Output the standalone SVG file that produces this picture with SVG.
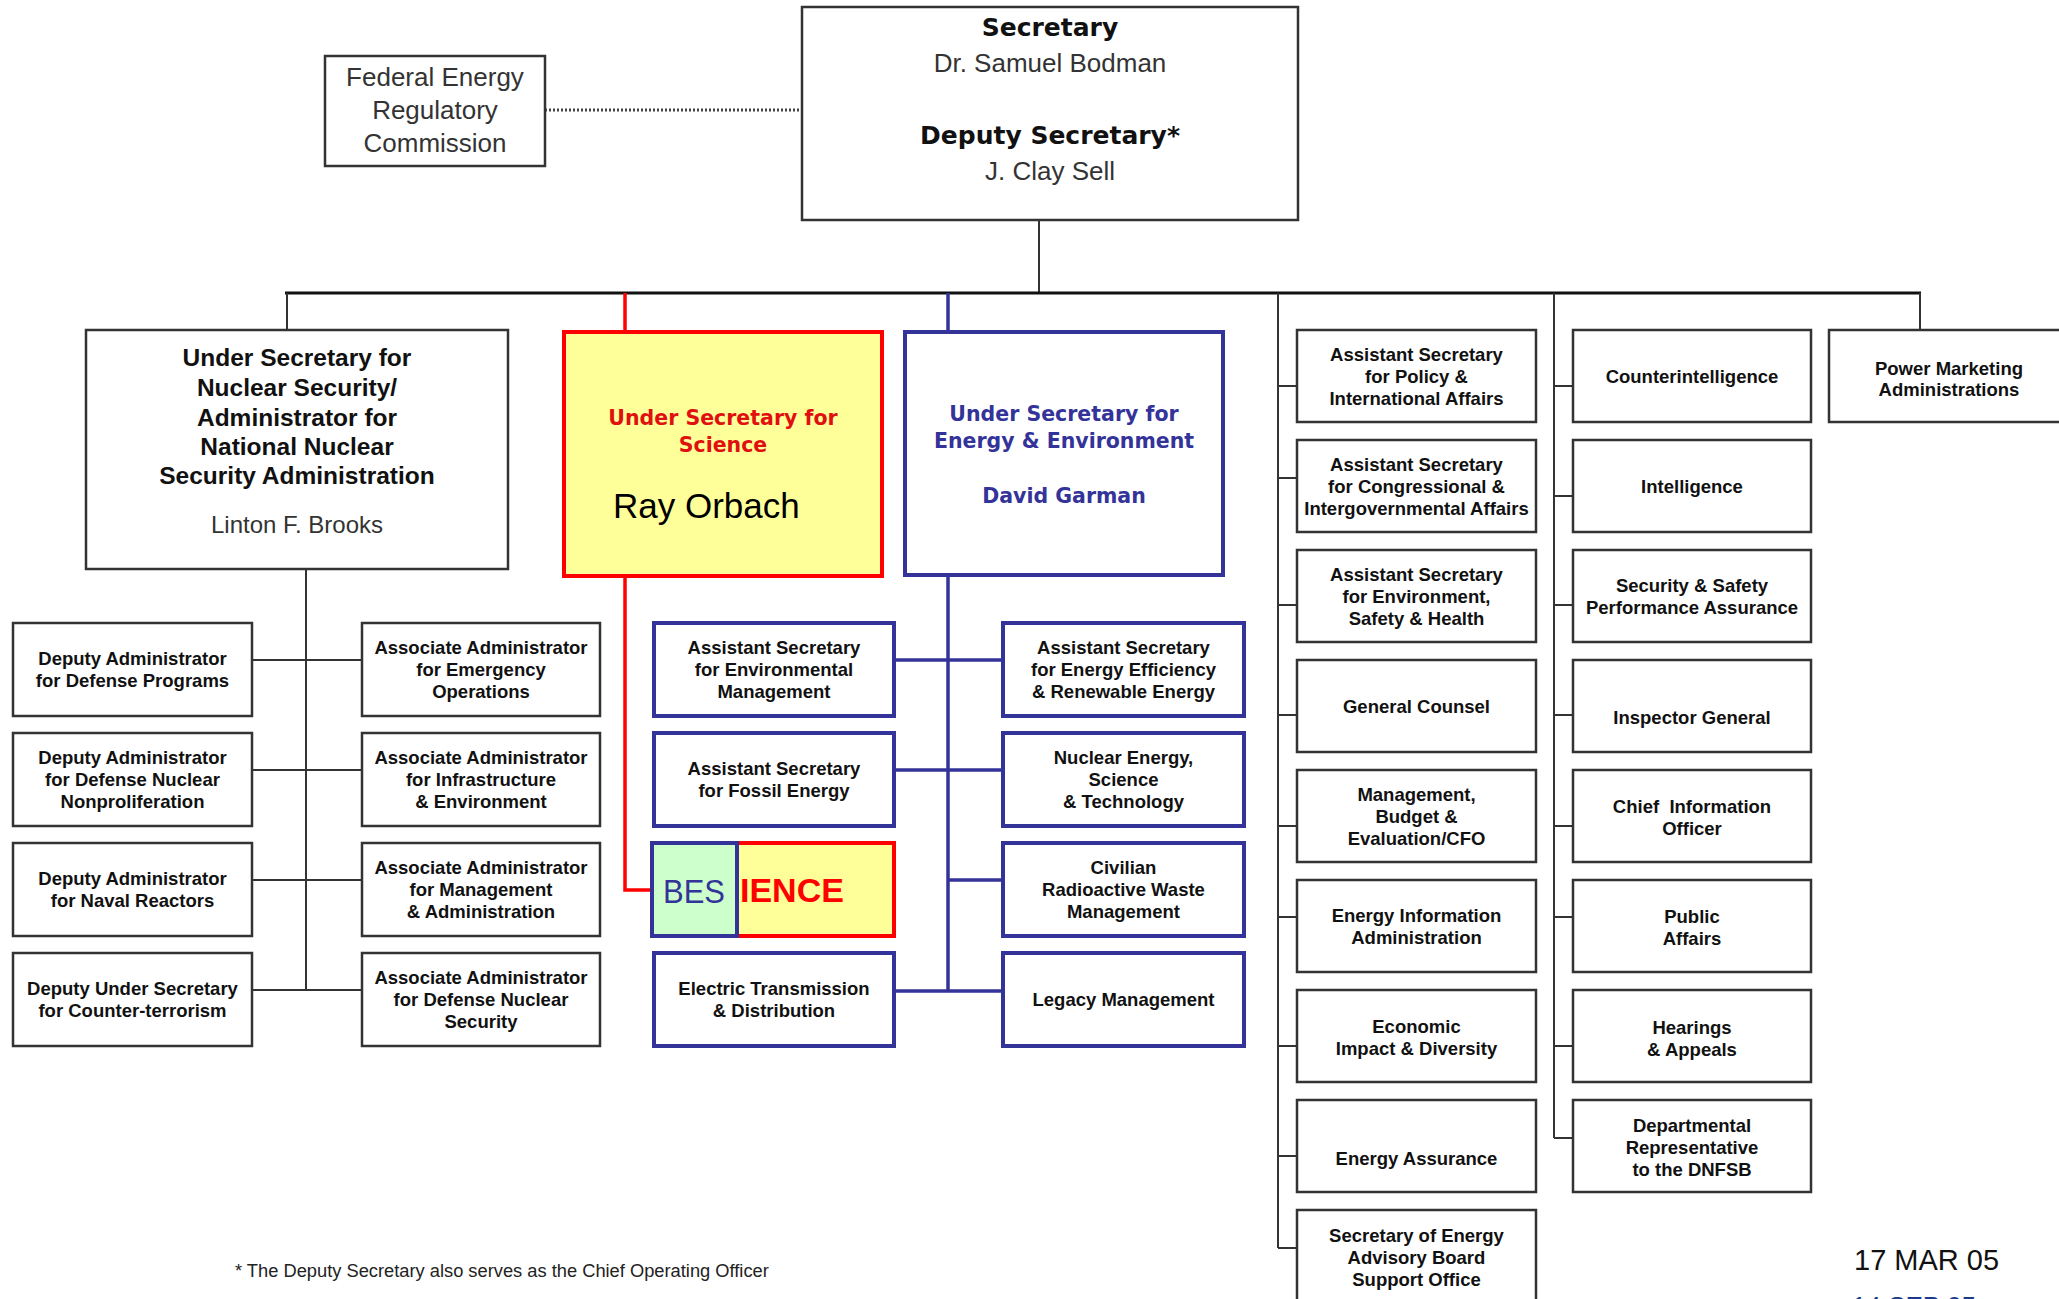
<svg xmlns="http://www.w3.org/2000/svg" width="2059" height="1299" viewBox="0 0 2059 1299">
<style>
.bx{fill:#fff;stroke:#333;stroke-width:2.5}
.bb{fill:#fff;stroke:#333399;stroke-width:4}
.t{font-family:"Liberation Sans",Arial,sans-serif;font-weight:bold;font-size:18.5px;text-anchor:middle;fill:#111}
.r{font-family:"Liberation Sans",Arial,sans-serif;font-size:26px;text-anchor:middle;fill:#333}
.h{font-family:"DejaVu Sans",Verdana,sans-serif;font-weight:bold;text-anchor:middle}
.ln{stroke:#333;stroke-width:2;fill:none}
.bl{stroke:#333399;stroke-width:3.5;fill:none}
.rl{stroke:#f00;stroke-width:3.5;fill:none}
</style>
<rect width="2059" height="1299" fill="#fff"/>
<g id="connectors">
<line x1="545" y1="110" x2="802" y2="110" stroke="#444" stroke-width="3" stroke-dasharray="2 2"/>
<line class="ln" x1="1039" y1="220" x2="1039" y2="293"/>
<line x1="285" y1="293" x2="1921" y2="293" stroke="#111" stroke-width="3"/>
<line class="ln" x1="287" y1="293" x2="287" y2="330"/>
<path class="rl" d="M625 293V332M625 576V890H654"/>
<path class="bl" d="M948 293V332M948 575V991"/>
<path class="bl" d="M894 660H1003M894 770H1003M948 880H1003M894 991H1003"/>
<path class="ln" d="M306 569V990M252 660H362M252 770H362M252 880H362M252 990H362"/>
<path class="ln" d="M1278 293V1248M1278 386H1297M1278 478H1297M1278 605H1297M1278 715H1297M1278 826H1297M1278 917H1297M1278 1046H1297M1278 1156H1297M1278 1248H1297"/>
<path class="ln" d="M1554 293V1138M1554 386H1573M1554 496H1573M1554 605H1573M1554 715H1573M1554 826H1573M1554 917H1573M1554 1046H1573M1554 1138H1573"/>
<line class="ln" x1="1920" y1="293" x2="1920" y2="330"/>
</g>
<g id="secretary">
<rect class="bx" x="802" y="7" width="496" height="213"/>
<text class="h" x="1050" y="36" font-size="25" fill="#111">Secretary</text>
<text class="r" x="1050" y="72">Dr. Samuel Bodman</text>
<text class="h" x="1050" y="144" font-size="25" fill="#111">Deputy Secretary*</text>
<text class="r" x="1050" y="180">J. Clay Sell</text>
</g>
<g id="ferc">
<rect class="bx" x="325" y="56" width="220" height="110"/>
<text class="r" x="435" y="86">Federal Energy</text>
<text class="r" x="435" y="119">Regulatory</text>
<text class="r" x="435" y="152">Commission</text>
</g>
<g id="us-nuclear">
<rect class="bx" x="86" y="330" width="422" height="239"/>
<g class="t" style="font-size:24.5px">
<text x="297" y="366">Under Secretary for</text>
<text x="297" y="396">Nuclear Security/</text>
<text x="297" y="426">Administrator for</text>
<text x="297" y="455">National Nuclear</text>
<text x="297" y="484">Security Administration</text>
</g>
<text class="r" x="297" y="533" style="font-size:24px">Linton F. Brooks</text>
</g>
<g id="us-science">
<rect x="564" y="332" width="318" height="244" fill="#ffff99" stroke="#f00" stroke-width="4"/>
<text class="h" x="723" y="425" font-size="20.5" fill="#e01010">Under Secretary for</text>
<text class="h" x="723" y="452" font-size="20.5" fill="#e01010">Science</text>
<text x="613" y="518" font-family="Liberation Sans, Arial, sans-serif" font-size="35" fill="#000">Ray Orbach</text>
</g>
<g id="us-energy">
<rect class="bb" x="905" y="332" width="318" height="243"/>
<text class="h" x="1064" y="421" font-size="20.5" fill="#333399">Under Secretary for</text>
<text class="h" x="1064" y="448" font-size="20.5" fill="#333399">Energy &amp; Environment</text>
<text class="h" x="1064" y="503" font-size="20.5" fill="#333399">David Garman</text>
</g>
<g id="da-defense"><rect class="bx" x="13" y="623" width="239" height="93"/><text class="t" x="132.5" y="665">Deputy Administrator</text><text class="t" x="132.5" y="687">for Defense Programs</text></g>
<g id="da-nonprolif"><rect class="bx" x="13" y="733" width="239" height="93"/><text class="t" x="132.5" y="764">Deputy Administrator</text><text class="t" x="132.5" y="786">for Defense Nuclear</text><text class="t" x="132.5" y="808">Nonproliferation</text></g>
<g id="da-naval"><rect class="bx" x="13" y="843" width="239" height="93"/><text class="t" x="132.5" y="885">Deputy Administrator</text><text class="t" x="132.5" y="907">for Naval Reactors</text></g>
<g id="dus-ct"><rect class="bx" x="13" y="953" width="239" height="93"/><text class="t" x="132.5" y="995">Deputy Under Secretary</text><text class="t" x="132.5" y="1017">for Counter-terrorism</text></g>
<g id="aa-emergency"><rect class="bx" x="362" y="623" width="238" height="93"/><text class="t" x="481" y="654">Associate Administrator</text><text class="t" x="481" y="676">for Emergency</text><text class="t" x="481" y="698">Operations</text></g>
<g id="aa-infra"><rect class="bx" x="362" y="733" width="238" height="93"/><text class="t" x="481" y="764">Associate Administrator</text><text class="t" x="481" y="786">for Infrastructure</text><text class="t" x="481" y="808">&amp; Environment</text></g>
<g id="aa-mgmt"><rect class="bx" x="362" y="843" width="238" height="93"/><text class="t" x="481" y="874">Associate Administrator</text><text class="t" x="481" y="896">for Management</text><text class="t" x="481" y="918">&amp; Administration</text></g>
<g id="aa-dns"><rect class="bx" x="362" y="953" width="238" height="93"/><text class="t" x="481" y="984">Associate Administrator</text><text class="t" x="481" y="1006">for Defense Nuclear</text><text class="t" x="481" y="1028">Security</text></g>
<g id="as-em"><rect class="bb" x="654" y="623" width="240" height="93"/><text class="t" x="774" y="654">Assistant Secretary</text><text class="t" x="774" y="676">for Environmental</text><text class="t" x="774" y="698">Management</text></g>
<g id="as-fe"><rect class="bb" x="654" y="733" width="240" height="93"/><text class="t" x="774" y="775">Assistant Secretary</text><text class="t" x="774" y="797">for Fossil Energy</text></g>
<g id="science">
<rect x="654" y="843" width="240" height="93" fill="#ffff99" stroke="#f00" stroke-width="4"/>
<text x="740" y="902" font-family="Liberation Sans, Arial, sans-serif" font-weight="bold" font-size="34" fill="#f00">IENCE</text>
</g>
<g id="bes">
<rect x="652" y="843" width="85" height="93" fill="#ccffcc" stroke="#333399" stroke-width="4"/>
<text x="663" y="903" font-family="Liberation Sans, Arial, sans-serif" font-size="34" fill="#333399" textLength="62" lengthAdjust="spacingAndGlyphs">BES</text>
</g>
<g id="etd"><rect class="bb" x="654" y="953" width="240" height="93"/><text class="t" x="774" y="995">Electric Transmission</text><text class="t" x="774" y="1017">&amp; Distribution</text></g>
<g id="eere"><rect class="bb" x="1003" y="623" width="241" height="93"/><text class="t" x="1123.5" y="654">Assistant Secretary</text><text class="t" x="1123.5" y="676">for Energy Efficiency</text><text class="t" x="1123.5" y="698">&amp; Renewable Energy</text></g>
<g id="ne"><rect class="bb" x="1003" y="733" width="241" height="93"/><text class="t" x="1123.5" y="764">Nuclear Energy,</text><text class="t" x="1123.5" y="786">Science</text><text class="t" x="1123.5" y="808">&amp; Technology</text></g>
<g id="rw"><rect class="bb" x="1003" y="843" width="241" height="93"/><text class="t" x="1123.5" y="874">Civilian</text><text class="t" x="1123.5" y="896">Radioactive Waste</text><text class="t" x="1123.5" y="918">Management</text></g>
<g id="lm"><rect class="bb" x="1003" y="953" width="241" height="93"/><text class="t" x="1123.5" y="1006">Legacy Management</text></g>
<g id="as-pi"><rect class="bx" x="1297" y="330" width="239" height="92"/><text class="t" x="1416.5" y="360.5">Assistant Secretary</text><text class="t" x="1416.5" y="382.5">for Policy &amp;</text><text class="t" x="1416.5" y="404.5">International Affairs</text></g>
<g id="as-ci"><rect class="bx" x="1297" y="440" width="239" height="92"/><text class="t" x="1416.5" y="470.5">Assistant Secretary</text><text class="t" x="1416.5" y="492.5">for Congressional &amp;</text><text class="t" x="1416.5" y="514.5">Intergovernmental Affairs</text></g>
<g id="as-esh"><rect class="bx" x="1297" y="550" width="239" height="92"/><text class="t" x="1416.5" y="580.5">Assistant Secretary</text><text class="t" x="1416.5" y="602.5">for Environment,</text><text class="t" x="1416.5" y="624.5">Safety &amp; Health</text></g>
<g id="gc"><rect class="bx" x="1297" y="660" width="239" height="92"/><text class="t" x="1416.5" y="712.5">General Counsel</text></g>
<g id="mbe"><rect class="bx" x="1297" y="770" width="239" height="92"/><text class="t" x="1416.5" y="800.5">Management,</text><text class="t" x="1416.5" y="822.5">Budget &amp;</text><text class="t" x="1416.5" y="844.5">Evaluation/CFO</text></g>
<g id="eia"><rect class="bx" x="1297" y="880" width="239" height="92"/><text class="t" x="1416.5" y="921.5">Energy Information</text><text class="t" x="1416.5" y="943.5">Administration</text></g>
<g id="eid"><rect class="bx" x="1297" y="990" width="239" height="92"/><text class="t" x="1416.5" y="1033">Economic</text><text class="t" x="1416.5" y="1055">Impact &amp; Diversity</text></g>
<g id="ea"><rect class="bx" x="1297" y="1100" width="239" height="92"/><text class="t" x="1416.5" y="1165">Energy Assurance</text></g>
<g id="seab"><rect class="bx" x="1297" y="1210" width="239" height="95"/><text class="t" x="1416.5" y="1242">Secretary of Energy</text><text class="t" x="1416.5" y="1264">Advisory Board</text><text class="t" x="1416.5" y="1286">Support Office</text></g>
<g id="counterintel"><rect class="bx" x="1573" y="330" width="238" height="92"/><text class="t" x="1692" y="383">Counterintelligence</text></g>
<g id="intel"><rect class="bx" x="1573" y="440" width="238" height="92"/><text class="t" x="1692" y="493">Intelligence</text></g>
<g id="sspa"><rect class="bx" x="1573" y="550" width="238" height="92"/><text class="t" x="1692" y="592">Security &amp; Safety</text><text class="t" x="1692" y="614">Performance Assurance</text></g>
<g id="ig"><rect class="bx" x="1573" y="660" width="238" height="92"/><text class="t" x="1692" y="724">Inspector General</text></g>
<g id="cio"><rect class="bx" x="1573" y="770" width="238" height="92"/><text class="t" x="1692" y="813" xml:space="preserve">Chief  Information</text><text class="t" x="1692" y="835">Officer</text></g>
<g id="pa"><rect class="bx" x="1573" y="880" width="238" height="92"/><text class="t" x="1692" y="923">Public</text><text class="t" x="1692" y="945">Affairs</text></g>
<g id="ha"><rect class="bx" x="1573" y="990" width="238" height="92"/><text class="t" x="1692" y="1034">Hearings</text><text class="t" x="1692" y="1056">&amp; Appeals</text></g>
<g id="dnfsb"><rect class="bx" x="1573" y="1100" width="238" height="92"/><text class="t" x="1692" y="1132">Departmental</text><text class="t" x="1692" y="1154">Representative</text><text class="t" x="1692" y="1176">to the DNFSB</text></g>
<g id="pma"><rect class="bx" x="1829" y="330" width="240" height="92"/><text class="t" x="1949" y="375">Power Marketing</text><text class="t" x="1949" y="396">Administrations</text></g>
<g id="notes">
<text x="235" y="1277" font-family="Liberation Sans, Arial, sans-serif" font-size="18.3" fill="#222">* The Deputy Secretary also serves as the Chief Operating Officer</text>
<text x="1854" y="1270" font-family="Liberation Sans, Arial, sans-serif" font-size="29" fill="#111">17 MAR 05</text>
<text x="1852" y="1315" font-family="Liberation Sans, Arial, sans-serif" font-size="26" fill="#1a3a8a">14 SEP 05 rev</text>
</g>
</svg>
